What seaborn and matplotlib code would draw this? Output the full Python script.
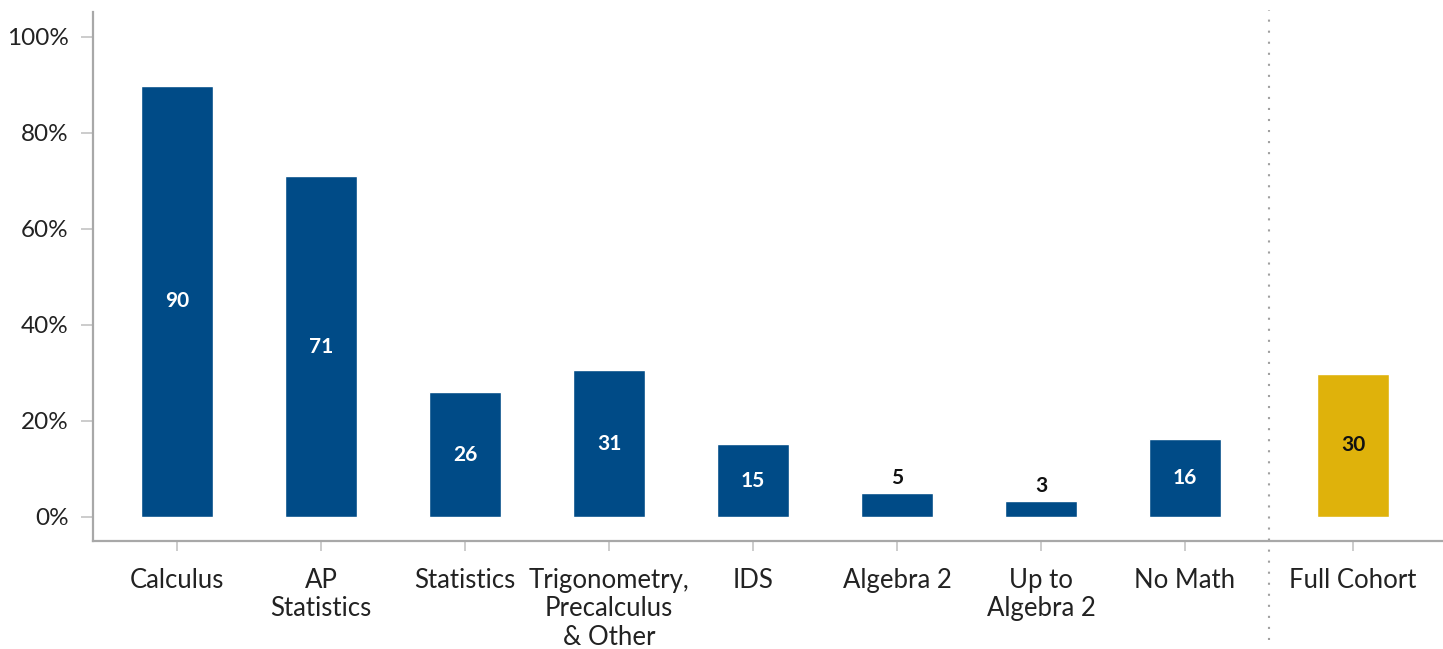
import matplotlib
matplotlib.use("Agg")
import matplotlib.pyplot as plt
import seaborn as sns
import pandas as pd
import numpy as np

categories = ["Calculus", "AP\nStatistics", "Statistics", "Trigonometry,\nPrecalculus\n& Other",
              "IDS", "Algebra 2", "Up to\nAlgebra 2", "No Math", "Full Cohort"]
values = [89.8, 71.0, 26.0, 30.6, 15.2, 5.0, 3.3, 16.2, 29.8]
groups = ["course"] * 8 + ["cohort"]
yticks = [0, 20, 40, 60, 80, 100]
ytick_labels = ["0%", "20%", "40%", "60%", "80%", "100%"]

BLUE = "#004B87"
GOLD = "#DFB20B"
TEXT = "#222222"

sns.set_theme(style="white")
plt.rcParams["font.family"] = ["Lato", "DejaVu Sans"]

# positions: course bars evenly spaced, Full Cohort set apart
positions = [float(i) for i in range(8)] + [7 + 168 / 144]
df = pd.DataFrame({"pos": positions, "value": values, "group": groups})

fig = plt.figure(figsize=(14.43, 6.49), dpi=100)
ax = fig.add_axes([93 / 1443, 108 / 649, 1 - 93 / 1443, 529 / 649])

sns.barplot(data=df, x="pos", y="value", hue="group", native_scale=True,
            palette={"course": BLUE, "cohort": GOLD}, width=0.5, dodge=False,
            legend=False, ax=ax, saturation=1)

ax.set_xlim(-84 / 144, 7 + 168 / 144 + 90 / 144)
ax.set_ylim(-5, 105.2)
ax.set_xticks(positions)
ax.set_xticklabels(categories, linespacing=1.18)
ax.set_yticks(yticks)
ax.set_yticklabels(ytick_labels)
ax.set_xlabel("")
ax.set_ylabel("")

for s in ["top", "right"]:
    ax.spines[s].set_visible(False)
for s in ["left", "bottom"]:
    ax.spines[s].set_color("#A8A8A8")
    ax.spines[s].set_linewidth(1.6)

ax.tick_params(axis="y", length=8.6, width=1.4, color="#CCCCCC", pad=9,
               labelsize=17.5, labelcolor=TEXT, left=True)
ax.tick_params(axis="x", length=7.2, width=1.4, color="#CCCCCC", pad=12,
               labelsize=18.5, labelcolor=TEXT, bottom=True)
for lab in ax.get_xticklabels():
    lab.set_verticalalignment("top")

# value labels
for p in ax.patches:
    h = p.get_height()
    if np.isnan(h) or h == 0:
        continue
    cx = p.get_x() + p.get_width() / 2
    is_gold = matplotlib.colors.to_hex(p.get_facecolor()).lower() == GOLD.lower()
    if h < 10:
        ax.text(cx, h + 3.2, f"{round(h):d}", ha="center", va="center",
                fontsize=15, fontweight="bold", color="#111111")
    else:
        ax.text(cx, h / 2, f"{round(h):d}", ha="center", va="center",
                fontsize=15, fontweight="bold",
                color="#111111" if is_gold else "white")

# dotted separator
sep_x = (positions[7] + positions[8]) / 2
ax.axvline(sep_x, ymin=-99 / 529, ymax=1.004, color="#A0A0A0", lw=1.5,
           linestyle=(0, (1, 4.3)), clip_on=False)

fig.savefig("out.png", dpi=100)
